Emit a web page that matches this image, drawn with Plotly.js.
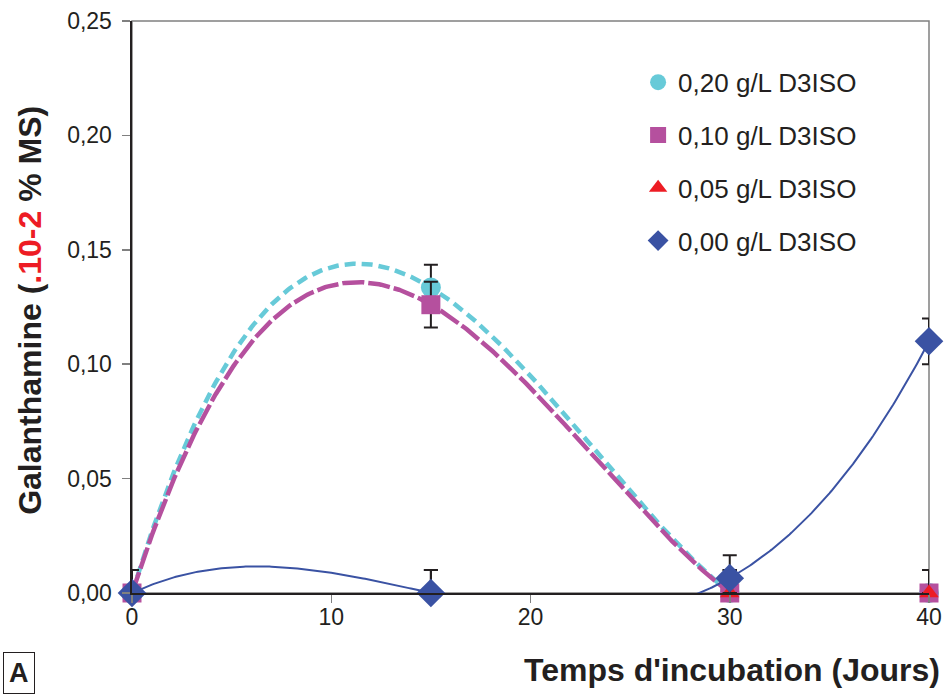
<!DOCTYPE html>
<html>
<head>
<meta charset="utf-8">
<script src="https://cdn.plot.ly/plotly-3.0.1.min.js"></script>
<style>html,body{margin:0;padding:0;background:#fff;}#chart{width:947px;height:697px;}</style>
</head>
<body>
<div id="chart"></div>
<script>
// ---- data ----
const days = [0, 15, 30, 40];
const seriesNames = ["0,20 g/L D3ISO", "0,10 g/L D3ISO", "0,05 g/L D3ISO", "0,00 g/L D3ISO"];
const g020 = [0, 0.1335, 0, 0];
const g010 = [0, 0.126, 0, 0];
const g005 = [0, 0, 0, 0];
const g000 = [0, 0, 0.0065, 0.11];
const err020Plus = [0.01, 0.01, 0.01, 0.01];
const err020Minus = [0, 0.01, 0, 0];
const err010Plus = [0.01, 0.01, 0.01, 0.01];
const err010Minus = [0, 0.01, 0, 0];
const err005Plus = [0.01, 0.01, 0.01, 0.01];
const err005Minus = [0, 0, 0, 0];
const err000Plus = [0.01, 0.01, 0.01, 0.01];
const err000Minus = [0, 0, 0.0065, 0.01];
const xTicks = [0, 10, 20, 30, 40];
const yTicks = [0, 0.05, 0.10, 0.15, 0.20, 0.25];

// ---- polynomial (order 3) least-squares trendline, like the spreadsheet trendline ----
function polyFit(xs, ys, order) {
  const n = order + 1;
  const A = [];
  for (let i = 0; i < n; i++) {
    A.push(new Array(n + 1).fill(0));
    for (let j = 0; j < n; j++) {
      A[i][j] = xs.reduce((s, x) => s + Math.pow(x, i + j), 0);
    }
    A[i][n] = xs.reduce((s, x, k) => s + Math.pow(x, i) * ys[k], 0);
  }
  for (let c = 0; c < n; c++) {
    let p = c;
    for (let r = c + 1; r < n; r++) if (Math.abs(A[r][c]) > Math.abs(A[p][c])) p = r;
    [A[c], A[p]] = [A[p], A[c]];
    for (let r = 0; r < n; r++) {
      if (r === c) continue;
      const f = A[r][c] / A[c][c];
      for (let k = c; k <= n; k++) A[r][k] -= f * A[c][k];
    }
  }
  return A.map((row, i) => row[n] / row[i]);
}
function trend(xs, ys) {
  const coef = polyFit(xs, ys, 3);
  const tx = [], ty = [];
  const x0 = xs[0], x1 = xs[xs.length - 1];
  for (let i = 0; i <= 400; i++) {
    const x = x0 + (x1 - x0) * i / 400;
    tx.push(x);
    ty.push(coef.reduce((s, c, k) => s + c * Math.pow(x, k), 0));
  }
  return {x: tx, y: ty};
}

const cCyan = '#67CAD8', cMag = '#B5509E', cRed = '#ED1C24', cBlue = '#3A52A3';

const t020 = trend(days, g020), t010 = trend(days, g010), t000 = trend(days, g000);

function errBar(plus, minus) {
  return {type: 'data', symmetric: false, array: plus, arrayminus: minus,
          color: '#231F20', thickness: 2, width: 7};
}

const traces = [
  {x: t020.x, y: t020.y, mode: 'lines', showlegend: false, hoverinfo: 'skip',
   line: {color: cCyan, width: 4.5, dash: '11px,6px'}},
  {x: t010.x, y: t010.y, mode: 'lines', showlegend: false, hoverinfo: 'skip',
   line: {color: cMag, width: 4.5, dash: '22px,4px'}},
  {x: t000.x, y: t000.y, mode: 'lines', showlegend: false, hoverinfo: 'skip',
   line: {color: cBlue, width: 2}},
  {x: days, y: g020, name: seriesNames[0], mode: 'markers', cliponaxis: false, legendgroup: 'a',
   marker: {symbol: 'circle', size: 20, color: cCyan}, error_y: errBar(err020Plus, err020Minus)},
  {x: days, y: g010, name: seriesNames[1], mode: 'markers', cliponaxis: false, legendgroup: 'b',
   marker: {symbol: 'square', size: 19, color: cMag}, error_y: errBar(err010Plus, err010Minus)},
  {x: days, y: g005, name: seriesNames[2], mode: 'markers', cliponaxis: false, legendgroup: 'c',
   marker: {symbol: 'triangle-up', size: 17, color: cRed}, error_y: errBar(err005Plus, err005Minus)},
  {x: days, y: g000, name: seriesNames[3], mode: 'markers', cliponaxis: false, legendgroup: 'd',
   marker: {symbol: 'diamond', size: 22, color: cBlue}, error_y: errBar(err000Plus, err000Minus)}
];

const font = 'Liberation Sans, Arial, sans-serif';
const layout = {
  width: 947, height: 697,
  margin: {l: 132, r: 18, t: 21, b: 104, pad: 0},
  paper_bgcolor: '#fff', plot_bgcolor: '#fff',
  separators: ', ',
  font: {family: font, color: '#231F20', size: 22},
  showlegend: true,
  legend: {x: 0.635, y: 0.934, xanchor: 'left', yanchor: 'top', bgcolor: 'rgba(0,0,0,0)',
           font: {size: 26, color: '#231F20'}, tracegroupgap: 16, traceorder: 'grouped'},
  xaxis: {range: [0, 40], tickvals: xTicks, ticktext: xTicks.map(String), showgrid: false, zeroline: false,
          showline: true, linecolor: '#231F20', linewidth: 2,
          ticks: 'outside', ticklen: 8, tickcolor: '#808080', tickwidth: 1.5,
          ticklabelstandoff: -6,
          tickfont: {size: 23, color: '#231F20'}, fixedrange: true},
  yaxis: {range: [0, 0.25], tickvals: yTicks, tickformat: '.2f', showgrid: false, zeroline: false,
          showline: true, linecolor: '#231F20', linewidth: 2.5,
          ticks: 'outside', ticklen: 8, tickcolor: '#808080', tickwidth: 1.5,
          ticklabelstandoff: 5,
          tickfont: {size: 23, color: '#231F20'}, fixedrange: true},
  shapes: [
    {type: 'rect', xref: 'paper', yref: 'paper', x0: 0, x1: 1, y0: 0, y1: 1,
     line: {color: '#808080', width: 1.5}, layer: 'below'}
  ],
  annotations: [
    {text: 'Galanthamine (<span style="color:#ED1C24">.10-2</span> % MS)', textangle: -90,
     xref: 'paper', yref: 'paper', x: -0.128, y: 0.495, xanchor: 'center', yanchor: 'middle',
     showarrow: false, font: {size: 32, family: font, weight: 'bold', color: '#231F20'}},
    {text: "Temps d'incubation (Jours)", xref: 'paper', yref: 'paper', x: 1.016, y: -0.135,
     xanchor: 'right', yanchor: 'middle', showarrow: false,
     font: {size: 32, family: font, weight: 'bold', color: '#231F20'}},
    {text: 'A', xref: 'paper', yref: 'paper', x: -0.162, y: -0.14, xanchor: 'left', yanchor: 'middle',
     showarrow: false, bordercolor: '#231F20', borderwidth: 1, borderpad: 5,
     font: {size: 27, family: font, weight: 'bold', color: '#231F20'}}
  ]
};

Plotly.newPlot('chart', traces, layout, {staticPlot: true, displayModeBar: false});
</script>
</body>
</html>
